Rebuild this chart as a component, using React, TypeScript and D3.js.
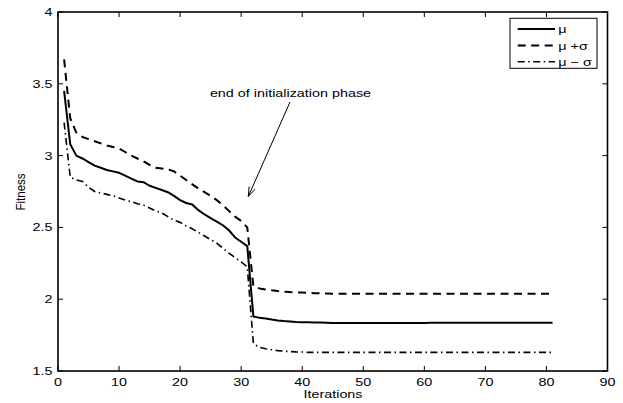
import React from "react";
import * as d3 from "d3";

const iterations: number[] = Array.from({ length: 81 }, (_, i) => i + 1);

const meanVals: number[] = [
  3.45, 3.08, 3.0, 2.98, 2.955, 2.93, 2.915, 2.9, 2.89, 2.88,
  2.86, 2.84, 2.82, 2.815, 2.79, 2.775, 2.76, 2.745, 2.72, 2.69,
  2.67, 2.66, 2.62, 2.59, 2.565, 2.54, 2.515, 2.48, 2.43, 2.4,
  2.37, 1.88, 1.87, 1.865, 1.858, 1.852, 1.848, 1.845, 1.842, 1.84,
  1.839, 1.838, 1.837, 1.836, 1.835, 1.835, 1.835, 1.835, 1.835, 1.835,
  1.835, 1.835, 1.835, 1.835, 1.835, 1.835, 1.835, 1.835, 1.835, 1.835,
  1.836, 1.836, 1.836, 1.836, 1.836, 1.836, 1.836, 1.836, 1.836, 1.836,
  1.836, 1.836, 1.836, 1.836, 1.836, 1.836, 1.836, 1.836, 1.836, 1.836,
  1.836,
];

const plusVals: number[] = [
  3.67, 3.26, 3.16, 3.13, 3.115, 3.1, 3.085, 3.07, 3.06, 3.05,
  3.025, 3.0, 2.98, 2.96, 2.935, 2.915, 2.91, 2.905, 2.89, 2.86,
  2.83, 2.8, 2.77, 2.745, 2.72, 2.69, 2.655, 2.615, 2.575, 2.545,
  2.5, 2.09, 2.075, 2.068, 2.062, 2.057, 2.053, 2.05, 2.048, 2.046,
  2.044, 2.042, 2.041, 2.04, 2.038, 2.038, 2.038, 2.038, 2.038, 2.038,
  2.038, 2.038, 2.038, 2.038, 2.038, 2.038, 2.038, 2.038, 2.038, 2.038,
  2.038, 2.038, 2.038, 2.038, 2.038, 2.038, 2.038, 2.038, 2.038, 2.038,
  2.038, 2.038, 2.038, 2.038, 2.038, 2.038, 2.038, 2.038, 2.038, 2.038,
  2.038,
];

const minusVals: number[] = [
  3.23, 2.85, 2.83, 2.82, 2.78, 2.75, 2.74, 2.73, 2.72, 2.705,
  2.69, 2.68, 2.665, 2.655, 2.635, 2.615, 2.6, 2.575, 2.55, 2.535,
  2.51, 2.49, 2.465, 2.44, 2.415, 2.39, 2.355, 2.32, 2.29, 2.26,
  2.225, 1.69, 1.665, 1.655, 1.648, 1.642, 1.638, 1.635, 1.633, 1.632,
  1.63, 1.63, 1.63, 1.63, 1.63, 1.63, 1.63, 1.63, 1.63, 1.63,
  1.63, 1.63, 1.63, 1.63, 1.63, 1.63, 1.63, 1.63, 1.63, 1.63,
  1.63, 1.63, 1.63, 1.63, 1.63, 1.63, 1.63, 1.63, 1.63, 1.63,
  1.63, 1.63, 1.63, 1.63, 1.63, 1.63, 1.63, 1.63, 1.63, 1.63,
  1.63,
];

const xTicks: number[] = [0, 10, 20, 30, 40, 50, 60, 70, 80, 90];
const yTicks: number[] = [1.5, 2, 2.5, 3, 3.5, 4];
const legendLabels: string[] = ["μ", "μ +σ", "μ − σ"];
const annotation = "end of initialization phase";

const W = 623;
const H = 403;
const left = 58;
const right = 607.5;
const top = 12;
const bottom = 371;
const FONT = "'Liberation Sans', Arial, Helvetica, sans-serif";
const SX = 1.25;

const styles = [
  { dash: "none", width: 2 },
  { dash: "8,5.5", width: 2 },
  { dash: "7,3.5,1.5,3.5", width: 1.6 },
];

export default function App() {
  const x = d3.scaleLinear().domain([0, 90]).range([left, right]);
  const y = d3.scaleLinear().domain([1.5, 4]).range([bottom, top]);
  const line = d3
    .line<number>()
    .x((_, i) => x(iterations[i]))
    .y((d) => y(d));
  const series = [meanVals, plusVals, minusVals];

  const txt = (
    tx: number,
    ty: number,
    s: string,
    anchor: string,
    size = 11.5,
    extra = ""
  ) => (
    <text
      transform={`translate(${tx},${ty}) ${extra} scale(${SX},1)`}
      textAnchor={anchor}
      fontSize={size}
      fontFamily={FONT}
      fill="#000"
    >
      {s}
    </text>
  );

  const legX0 = 517.7;
  const legX1 = 555;
  const legYs = [29, 45.5, 61.7];

  const ax0 = 290, ay0 = 102, ax1 = 248.3, ay1 = 196.5;
  const ang = Math.atan2(ay1 - ay0, ax1 - ax0);
  const hl = 10, ha = 0.33;
  const h1 = [ax1 - hl * Math.cos(ang - ha), ay1 - hl * Math.sin(ang - ha)];
  const h2 = [ax1 - hl * Math.cos(ang + ha), ay1 - hl * Math.sin(ang + ha)];

  return (
    <svg
      width={W}
      height={H}
      style={{ position: "absolute", left: 0, top: 0, background: "#fff" }}
    >
      <rect x={0} y={0} width={W} height={H} fill="#fff" />
      {series.map((s, i) => (
        <path
          key={i}
          d={line(s) || ""}
          fill="none"
          stroke="#000"
          strokeWidth={styles[i].width}
          strokeDasharray={styles[i].dash}
          strokeLinejoin="round"
        />
      ))}
      {/* axes box */}
      <rect
        x={left}
        y={top}
        width={right - left}
        height={bottom - top}
        fill="none"
        stroke="#000"
        strokeWidth={1.6}
      />
      {xTicks.map((t) => (
        <g key={"x" + t}>
          <line x1={x(t)} x2={x(t)} y1={bottom} y2={bottom - 5} stroke="#000" strokeWidth={1} />
          <line x1={x(t)} x2={x(t)} y1={top} y2={top + 5} stroke="#000" strokeWidth={1} />
          {txt(x(t), 386, String(t), "middle")}
        </g>
      ))}
      {yTicks.map((t) => (
        <g key={"y" + t}>
          <line x1={left} x2={left + 5} y1={y(t)} y2={y(t)} stroke="#000" strokeWidth={1} />
          <line x1={right} x2={right - 5} y1={y(t)} y2={y(t)} stroke="#000" strokeWidth={1} />
          {txt(52.5, y(t) + 4, String(t), "end")}
        </g>
      ))}
      {txt(333, 398, "Iterations", "middle", 11.5)}
      <text
        transform={`translate(24.5,192) rotate(-90) scale(1,1.1)`}
        textAnchor="middle"
        fontSize={11.5}
        fontFamily={FONT}
        fill="#000"
      >
        Fitness
      </text>
      {/* annotation */}
      {txt(290.5, 96.5, annotation, "middle", 11.5)}
      <line x1={ax0} y1={ay0} x2={ax1} y2={ay1} stroke="#000" strokeWidth={1} />
      <path
        d={`M${h1[0]},${h1[1]} L${ax1},${ay1} L${h2[0]},${h2[1]}`}
        fill="none"
        stroke="#000"
        strokeWidth={1}
      />
      {/* legend */}
      <rect x={510} y={18.3} width={87} height={50} fill="#fff" stroke="#000" strokeWidth={1} />
      {legendLabels.map((l, i) => (
        <g key={l}>
          <line
            x1={legX0}
            x2={legX1}
            y1={legYs[i]}
            y2={legYs[i]}
            stroke="#000"
            strokeWidth={styles[i].width}
            strokeDasharray={styles[i].dash}
          />
          {txt(558.3, legYs[i] + 4, l, "start", 11.5)}
        </g>
      ))}
    </svg>
  );
}
